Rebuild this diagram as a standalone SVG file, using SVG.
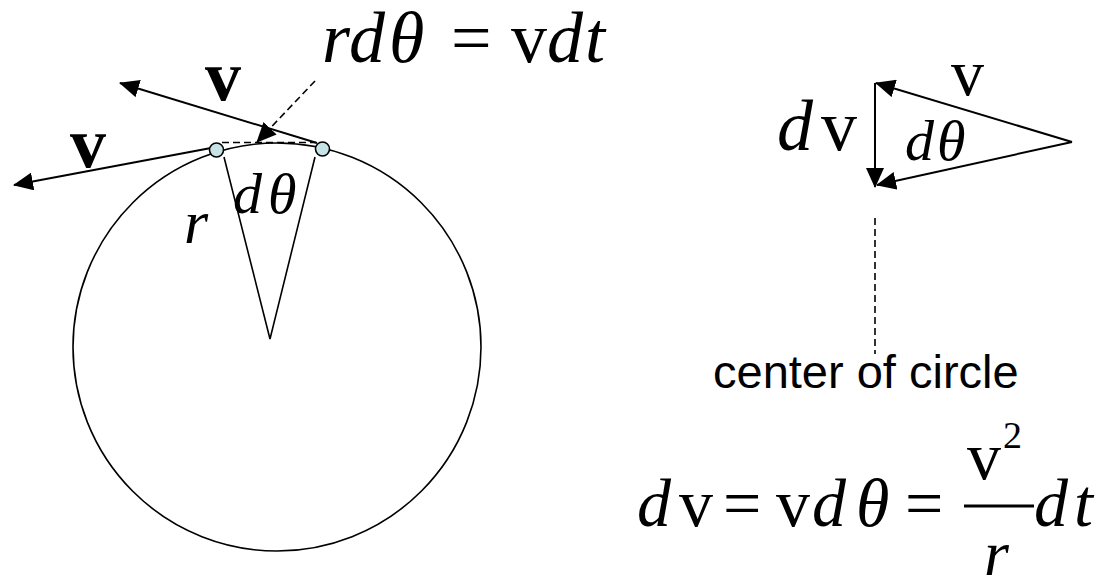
<svg xmlns="http://www.w3.org/2000/svg" width="1109" height="580" viewBox="0 0 1109 580">
<defs>
<style>
.ln{stroke:#000;stroke-width:2;fill:none}
.thin{stroke:#000;stroke-width:1.6;fill:none}
.dash{stroke:#000;stroke-width:1.6;fill:none;stroke-dasharray:7 4}
.arr{marker-end:url(#ah)}
.m{font-family:"Liberation Serif","Times New Roman",serif;fill:#000}
.i{font-style:italic}
.b{font-weight:bold}
.s{font-family:"Liberation Sans",Arial,sans-serif;fill:#000}
.dot{fill:#c6e4e6;stroke:#000;stroke-width:1.6}
</style>
<marker id="ah" viewBox="0 0 20 18" refX="19" refY="9" markerWidth="20" markerHeight="18" markerUnits="userSpaceOnUse" orient="auto">
<path d="M0,0 L20,9 L0,18 z" fill="#000"/>
</marker>
</defs>
<rect width="1109" height="580" fill="#fff"/>

<g id="circle">
<circle cx="277" cy="347" r="204" class="thin"/>
</g>
<g id="wedge">
<polyline points="224,157 270,339 315,157" class="thin"/>
</g>

<g id="connectors">
<line x1="211" y1="148" x2="14" y2="185" class="ln arr"/>
<line x1="317" y1="143" x2="120" y2="83" class="ln arr"/>
<line x1="222" y1="142.5" x2="316" y2="142.5" class="dash"/>
<line x1="315" y1="81" x2="257" y2="142" class="dash arr"/>
<line x1="1072" y1="142" x2="876" y2="83" class="ln arr"/>
<line x1="1072" y1="142" x2="877" y2="185" class="ln arr"/>
<line x1="875" y1="83" x2="875" y2="187" class="ln arr"/>
<line x1="875" y1="218" x2="875" y2="354" class="dash"/>
</g>

<g id="points">
<circle cx="216.5" cy="150" r="7" class="dot"/>
<circle cx="322.5" cy="149" r="7" class="dot"/>
</g>

<g id="labels">
<text class="m b" font-size="72" x="205" y="100">v</text>
<text class="m b" font-size="72" x="70" y="167">v</text>
<text class="m i" font-size="62" x="184" y="243">r</text>
<text class="m i" font-size="58" y="213"><tspan x="233">d</tspan><tspan x="268">θ</tspan></text>
<text class="m" font-size="72" y="62"><tspan class="i" x="322">r</tspan><tspan class="i" x="349">d</tspan><tspan class="i" x="389">θ</tspan><tspan x="451">=</tspan><tspan x="511">v</tspan><tspan class="i" x="547">d</tspan><tspan class="i" x="585">t</tspan></text>
</g>

<g id="triangle-labels">
<text class="m" font-size="72" y="150"><tspan class="i" x="777">d</tspan><tspan x="821">v</tspan></text>
<text class="m" font-size="66" x="951" y="95">v</text>
<text class="m i" font-size="58" y="160"><tspan x="905">d</tspan><tspan x="937">θ</tspan></text>
</g>

<g id="center-label">
<text class="s" font-size="47" x="713" y="388">center of circle</text>
</g>

<g id="equation">
<text class="m" font-size="68" y="526"><tspan class="i" x="637">d</tspan><tspan x="679">v</tspan><tspan x="723">=</tspan><tspan x="776">v</tspan><tspan class="i" x="812">d</tspan><tspan class="i" x="856">θ</tspan><tspan x="905">=</tspan><tspan class="i" x="1034">d</tspan><tspan class="i" x="1074">t</tspan></text>
<line x1="964" y1="506" x2="1034" y2="506" stroke="#000" stroke-width="3"/>
<text class="m" font-size="68" x="967" y="479">v</text>
<text class="m" font-size="38" x="1003" y="448">2</text>
<text class="m i" font-size="64" x="984" y="575">r</text>
</g>
</svg>
